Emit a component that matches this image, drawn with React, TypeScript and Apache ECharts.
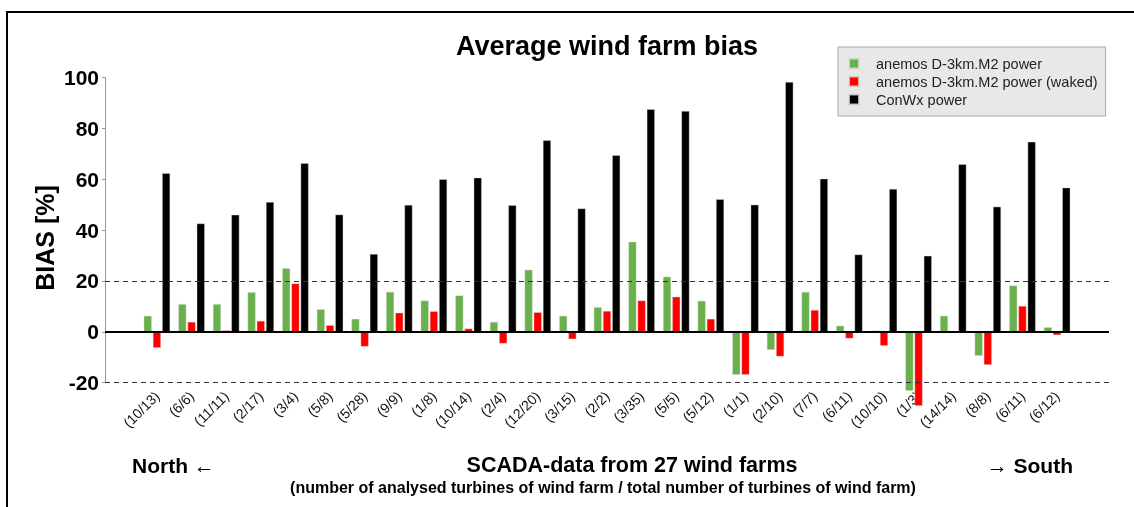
import React, { useEffect, useRef } from "react";
import * as echarts from "echarts";

const farms = ["(10/13)", "(6/6)", "(11/11)", "(2/17)", "(3/4)", "(5/8)", "(5/28)", "(9/9)", "(1/8)", "(10/14)", "(2/4)", "(12/20)", "(3/15)", "(2/2)", "(3/35)", "(5/5)", "(5/12)", "(1/1)", "(2/10)", "(7/7)", "(6/11)", "(10/10)", "(1/3)", "(14/14)", "(8/8)", "(6/11)", "(6/12)"];
const anemos = [6.3, 10.9, 10.9, 15.6, 25.0, 8.9, 5.1, 15.7, 12.3, 14.3, 3.9, 24.4, 6.3, 9.7, 35.4, 21.7, 12.2, -16.9, -7.1, 15.7, 2.4, 0.5, -23.2, 6.3, -9.4, 18.2, 1.8];
const anemosWaked = [-6.3, 3.9, 0.6, 4.3, 19.0, 2.6, -5.8, 7.5, 8.1, 1.3, -4.6, 7.7, -2.9, 8.2, 12.3, 13.8, 5.1, -16.9, -9.7, 8.6, -2.6, -5.5, -29.1, 0, -13.0, 10.2, -1.3];
const conwx = [62.4, 42.6, 46.0, 51.0, 66.3, 46.1, 30.6, 49.9, 60.0, 60.6, 49.8, 75.3, 48.5, 69.4, 87.5, 86.8, 52.1, 50.0, 98.2, 60.2, 30.4, 56.2, 29.9, 65.9, 49.2, 74.7, 56.7];
const seriesNames = ["anemos D-3km.M2 power", "anemos D-3km.M2 power (waked)", "ConWx power"];
const colors = ["#6ab04c", "#ff0000", "#000000"];
const yTicks = { min: -20, max: 100, interval: 20 };
const refLines = [0, 20, -20];

const FONT = "Liberation Sans, Arial, Helvetica, sans-serif";

export default function App() {
  const ref = useRef<HTMLDivElement>(null);
  useEffect(() => {
    if (!ref.current) return;
    const chart = echarts.init(ref.current, null, { renderer: "svg" });
    const cats = ["", ...farms, ""];
    const pad = (a: number[]) => ["-", ...a, "-"];
    const datas = [anemos, anemosWaked, conwx];
    const series: any[] = datas.map((d, i) => ({
      name: seriesNames[i],
      type: "bar",
      data: pad(d),
      barWidth: 8,
      barGap: "15%",
      clip: false,
      itemStyle: { color: colors[i], borderColor: "rgba(220,220,220,0.8)", borderWidth: 0.5 },
      z: 2,
    }));
    series[2].markLine = {
      silent: true,
      symbol: ["none", "none"],
      label: { show: false },
      z: 3,
      data: refLines.map((v) => ({
        yAxis: v,
        lineStyle: v === 0
          ? { color: "#000", width: 2, type: "solid" }
          : { color: "#333", width: 1, type: [5, 4] },
      })),
    };
    chart.setOption({
      animation: false,
      textStyle: { fontFamily: FONT },
      grid: { left: 105, right: 25, top: 77.5, bottom: 124.3, containLabel: false },
      legend: {
        orient: "vertical",
        left: 838,
        top: 47,
        itemWidth: 10,
        itemHeight: 10,
        itemGap: 3,
        icon: "rect",
        padding: [9, 8, 9, 10],
        backgroundColor: "#e8e8e8",
        borderColor: "#a8a8a8",
        borderWidth: 1,
        borderRadius: 0,
        textStyle: { fontSize: 14.5, color: "#222", fontFamily: FONT, lineHeight: 14, padding: [0, 0, 0, 12] },
        data: seriesNames,
      },
      xAxis: {
        type: "category",
        data: cats,
        axisLine: { show: false, onZero: false },
        axisTick: { show: false },
        axisLabel: { rotate: 45, interval: 0, fontSize: 14, color: "#111", margin: 11, fontFamily: FONT },
        splitLine: { show: false },
      },
      yAxis: {
        type: "value",
        min: yTicks.min,
        max: yTicks.max,
        interval: yTicks.interval,
        axisLine: { show: true, lineStyle: { color: "#999", width: 1 } },
        axisTick: { show: true, length: 3, lineStyle: { color: "#999" } },
        axisLabel: { fontSize: 21, fontWeight: "bold", color: "#000", margin: 6, fontFamily: FONT },
        splitLine: { show: false },
      },
      series,
      graphic: [
        { type: "rect", shape: { x: 7, y: 12, width: 1300, height: 700 }, style: { fill: "none", stroke: "#000", lineWidth: 2 }, silent: true },
        { type: "text", x: 607, y: 46, style: { text: "Average wind farm bias", font: `bold 27px ${FONT}`, fill: "#000", textAlign: "center", textVerticalAlign: "middle" } },
        { type: "text", x: 45, y: 238, rotation: Math.PI / 2, style: { text: "BIAS [%]", font: `bold 25px ${FONT}`, fill: "#000", textAlign: "center", textVerticalAlign: "middle" } },
        { type: "text", x: 132, y: 465, style: { text: "North ←", font: `bold 21px ${FONT}`, fill: "#000", textAlign: "left", textVerticalAlign: "middle" } },
        { type: "text", x: 632, y: 465, style: { text: "SCADA-data from 27 wind farms", font: `bold 21.5px ${FONT}`, fill: "#000", textAlign: "center", textVerticalAlign: "middle" } },
        { type: "text", x: 1073, y: 465, style: { text: "→ South", font: `bold 21px ${FONT}`, fill: "#000", textAlign: "right", textVerticalAlign: "middle" } },
        { type: "text", x: 603, y: 487, style: { text: "(number of analysed turbines of wind farm / total number of turbines of wind farm)", font: `bold 16px ${FONT}`, fill: "#000", textAlign: "center", textVerticalAlign: "middle" } },
      ],
    });
    return () => chart.dispose();
  }, []);
  return <div ref={ref} style={{ position: "fixed", left: 0, top: 0, width: 1134, height: 507 }} />;
}
